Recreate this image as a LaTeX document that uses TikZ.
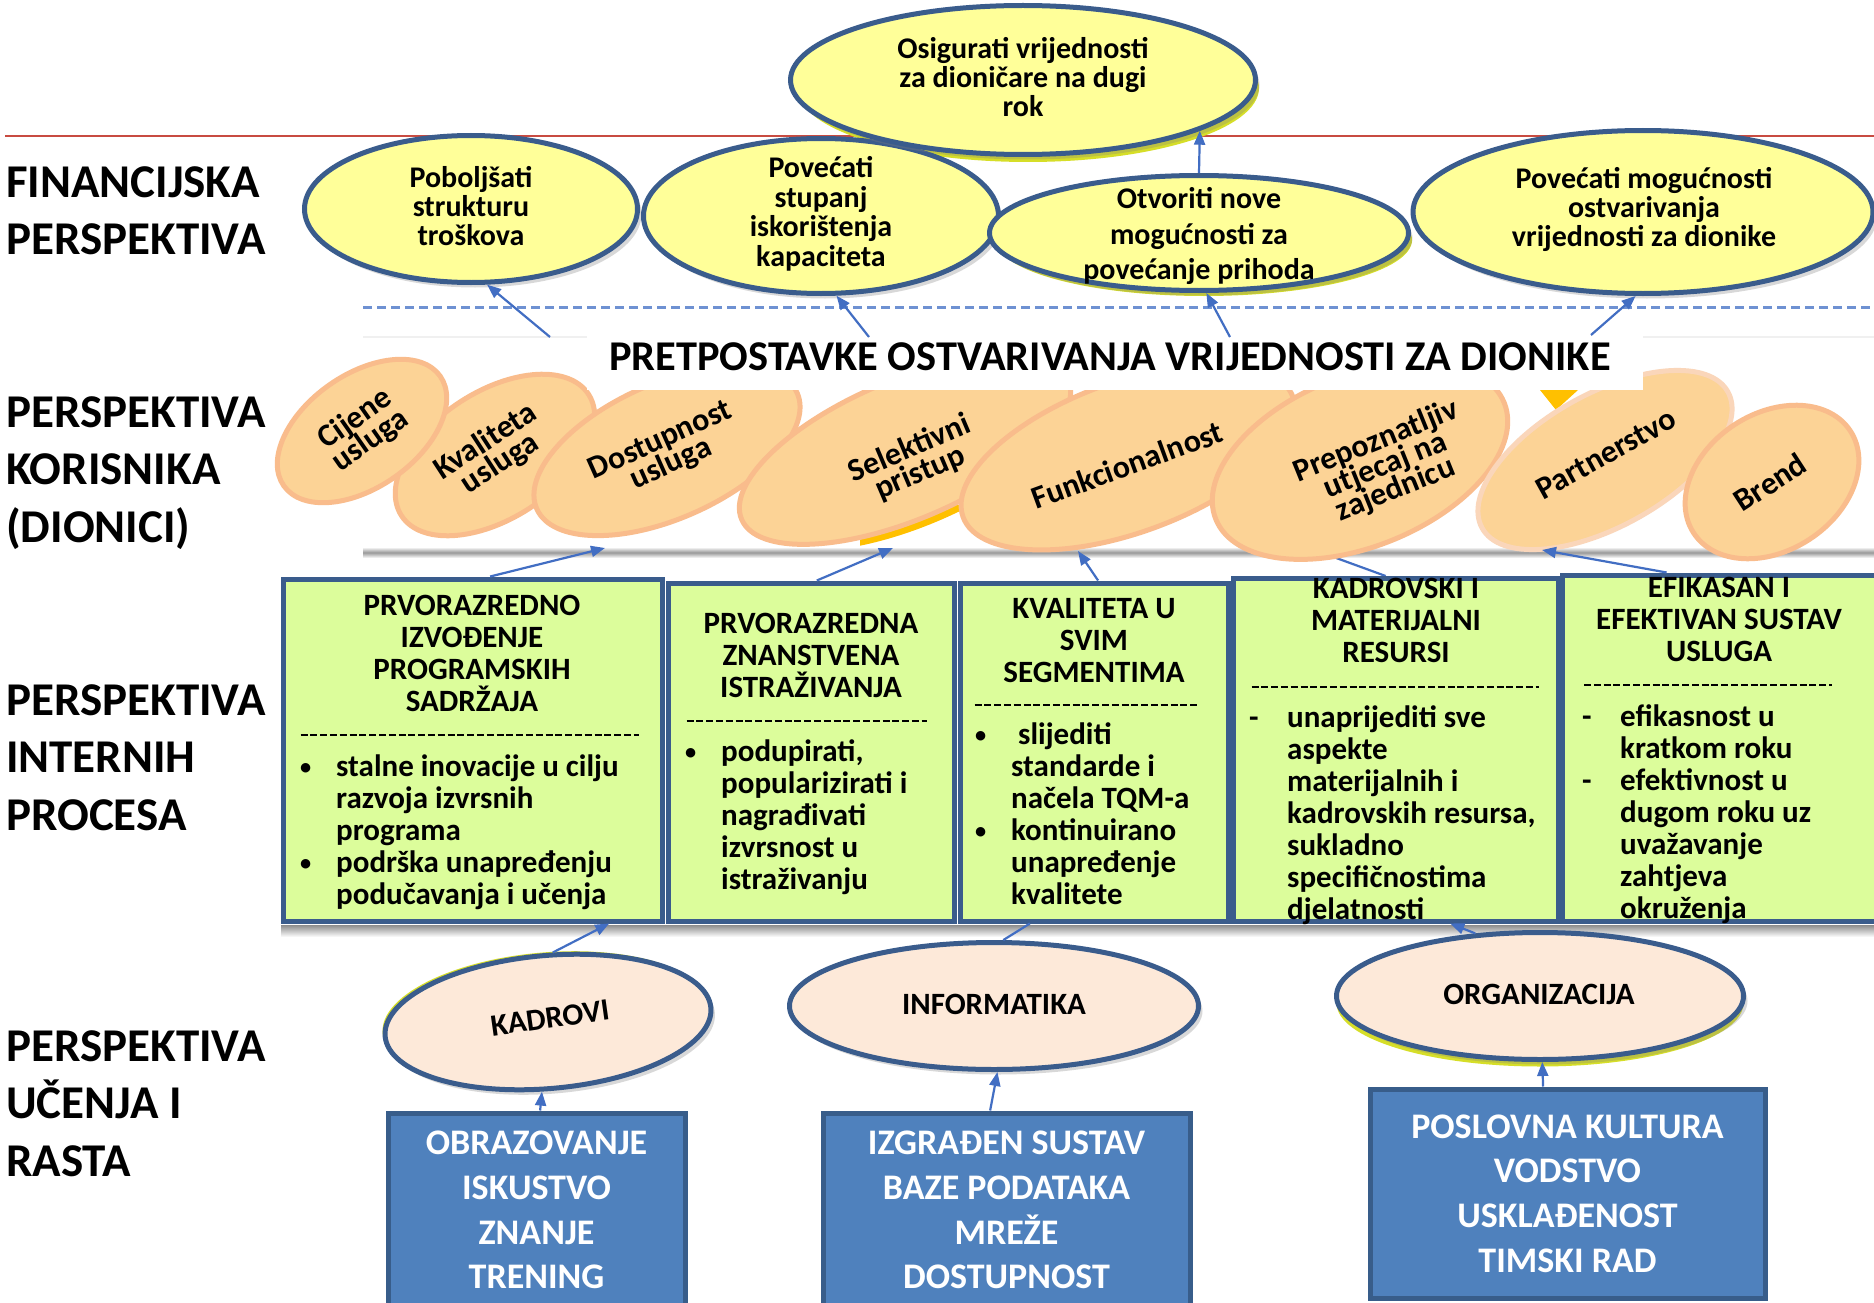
\documentclass[tikz,border=0pt]{standalone}
\usepackage{fontspec}
\usepackage{graphicx}
\setmainfont{Carlito}
\usetikzlibrary{shapes.geometric,arrows.meta,calc,shadows}

\definecolor{dkblue}{RGB}{58,92,140}
\definecolor{finyel}{RGB}{255,255,153}
\definecolor{custfill}{RGB}{252,211,150}
\definecolor{custline}{RGB}{249,188,140}
\definecolor{custlinelt}{RGB}{250,214,186}
\definecolor{procfill}{RGB}{220,253,155}
\definecolor{learnfill}{RGB}{253,233,217}
\definecolor{boxblue}{RGB}{79,129,189}
\definecolor{boxline}{RGB}{56,93,138}
\definecolor{arrblue}{RGB}{66,110,195}
\definecolor{redline}{RGB}{200,75,65}
\definecolor{dashblue}{RGB}{110,145,210}
\definecolor{sliver}{RGB}{214,222,40}
\definecolor{goldc}{RGB}{255,192,0}

\newcommand\ffin{\fontsize{30}{29}\selectfont\bfseries\lineskiplimit=-100pt\relax}
\newcommand\fpov{\fontsize{30}{29.5}\selectfont\bfseries\lineskiplimit=-100pt\relax}
\newcommand\fotv{\fontsize{30}{35.5}\selectfont\bfseries\lineskiplimit=-100pt\relax}
\newcommand\fcust{\fontsize{32}{26}\selectfont\bfseries\lineskiplimit=-100pt\relax}
\newcommand\fproc{\fontsize{31}{32}\selectfont\bfseries\lineskiplimit=-100pt\relax}
\newcommand\flearn{\fontsize{31}{36}\selectfont\bfseries}
\newcommand\fblue{\fontsize{36}{44.7}\selectfont\bfseries\lineskiplimit=-100pt\relax}
\newcommand\flab{\fontsize{47}{57.5}\selectfont\bfseries\lineskiplimit=-100pt\relax}
\newcommand\fban{\fontsize{42.4}{50}\selectfont\bfseries}
\newcommand\st{\rule{0pt}{25pt}}
\newcommand\stl{\rule{0pt}{40pt}}
\newcommand\bu{\makebox[38pt][l]{\hspace{2pt}\raisebox{1.5pt}{\scalebox{0.72}{•}}}}
\newcommand\da{\makebox[38pt][l]{-}}
\newcommand\ind{\makebox[38pt]{}}

\begin{document}
\begin{tikzpicture}[x=1pt,y=-1pt,
  finshape/.style={ellipse, draw=dkblue, line width=5pt, fill=finyel, inner sep=0pt,
     drop shadow={shadow xshift=4pt, shadow yshift=-5pt, opacity=0.3}},
  sliv/.style={ellipse, fill=sliver, inner sep=0pt},
  fintext/.style={align=center, inner sep=0pt, font=\ffin},
  custshape/.style={ellipse, draw=custline, line width=5pt, fill=custfill, inner sep=0pt},
  custtext/.style={align=center, inner sep=0pt, font=\fcust},
  procbox/.style={rectangle, draw=dkblue, line width=5pt, fill=procfill, inner sep=0pt},
  proctitle/.style={align=center, inner sep=0pt, font=\fproc, anchor=north},
  procbody/.style={align=left, inner sep=0pt, font=\fproc, anchor=north west},
  sepline/.style={line width=2.5pt, dash pattern=on 7pt off 2.8pt},
  learnshape/.style={ellipse, draw=dkblue, line width=5pt, fill=learnfill, inner sep=0pt,
     drop shadow={shadow xshift=4pt, shadow yshift=-5pt, opacity=0.3}},
  learntext/.style={inner sep=0pt, font=\flearn},
  bluebox/.style={rectangle, draw=boxline, line width=5pt, fill=boxblue, text=white,
     align=center, inner sep=0pt, font=\fblue},
  lab/.style={align=left, inner sep=0pt, font=\flab, anchor=north west},
  arr/.style={draw=arrblue, line width=2.2pt, -{Triangle[length=14pt,width=11pt]}},
  conn/.style={draw=arrblue, line width=2.2pt},
]
\useasboundingbox (0,0) rectangle (1874,1303);
\fill[white] (0,0) rectangle (1874,1303);

% ---- guide lines
\draw[redline, line width=2.5pt] (5,136) -- (1874,136);
\draw[dashblue, line width=3pt, dash pattern=on 9pt off 5pt] (363,307) -- (1874,307);
\draw[black!6, line width=2pt] (363,337) -- (1874,337);
\shade[top color=white, bottom color=white, middle color=black!40] (363,547) rectangle (1874,558);

% ---- left labels
\node[lab] (lab1) at (6,157) {\stl FINANCIJSKA\\PERSPEKTIVA};
\node[lab] (lab2) at (6,387) {\stl PERSPEKTIVA\\KORISNIKA\\(DIONICI)};
\node[lab] (lab3) at (6,675) {\stl PERSPEKTIVA\\INTERNIH\\PROCESA};
\node[lab] (lab4) at (6,1021) {\stl PERSPEKTIVA\\UČENJA I\\RASTA};

% ---- financial perspective
\node[sliv, minimum width=462pt, minimum height=148pt] (osigy) at (1028,88) {};
\node[sliv, minimum width=416pt, minimum height=112pt] (otvy) at (1204,240) {};
\node[finshape, minimum width=333pt, minimum height=147pt] (pob) at (471,209) {};
\node[finshape, minimum width=355pt, minimum height=155pt] (pov) at (821,216) {};
\node[finshape, minimum width=419pt, minimum height=115pt] (otv) at (1199,233) {};
\node[finshape, minimum width=460pt, minimum height=163pt] (povm) at (1643,212) {};
\node[finshape, minimum width=465pt, minimum height=149pt] (osig) at (1023,80) {};

\node[fintext] (osigt) at (1023,77) {Osigurati vrijednosti\\za dioničare na dugi\\rok};
\node[fintext] (pobt) at (471,206) {Poboljšati\\strukturu\\troškova};
\node[fintext, font=\fpov] (povt) at (821,214) {Povećati\\stupanj\\iskorištenja\\kapaciteta};
\node[fintext, font=\fotv] (otvt) at (1199,236) {Otvoriti nove\\mogućnosti za\\povećanje prihoda};
\node[fintext] (povmt) at (1644,209) {Povećati mogućnosti\\ostvarivanja\\vrijednosti za dionike};

% ---- customer perspective
\coordinate (e4) at (1328,555);
\draw[conn] ($(1231,576)!0.47!(1560,576)$) coordinate (s4) -- (e4);

\node[custshape, minimum width=223pt, minimum height=127pt, rotate=33] (kva) at (495,455) {};
\node[custshape, minimum width=191pt, minimum height=113pt, rotate=35] (cij) at (362,431) {};
\node[custshape, minimum width=285pt, minimum height=135pt, rotate=24] (dos) at (667,451) {};
\begin{scope}
  \clip (860,505) rectangle (965,565);
  \node[ellipse, fill=goldc, inner sep=0pt, minimum width=355pt, minimum height=139pt, rotate=23] (selg) at (911,457) {};
\end{scope}
\node[custshape, minimum width=355pt, minimum height=139pt, rotate=23] (sel) at (905,450) {};
\node[custshape, minimum width=351pt, minimum height=151pt, rotate=20] (fun) at (1128,457) {};
\node[custshape, minimum width=311pt, minimum height=171pt, rotate=22] (pre) at (1360,461) {};
\fill[goldc] (1540,390) -- (1578,390) -- (1556,410) -- cycle;
\node[custshape, draw=custlinelt, minimum width=281pt, minimum height=133pt, rotate=29] (par) at (1605,460) {};
\node[custshape, minimum width=187pt, minimum height=137pt, rotate=33] (bre) at (1772,482) {};

\node[custtext, rotate=35] (cijt) at (363,430) {Cijene\\usluga};
\node[custtext, rotate=33] (kvat) at (493,453) {Kvaliteta\\usluga};
\node[custtext, rotate=24] (dost) at (666,453) {Dostupnost\\usluga};
\node[custtext, rotate=23] (selt) at (915,461) {Selektivni\\pristup};
\node[custtext, rotate=20] (funt) at (1127,465) {Funkcionalnost};
\node[custtext, rotate=22] (pret) at (1386,466) {Prepoznatljiv\\utjecaj na\\zajednicu};
\node[custtext, rotate=29] (part) at (1606,454) {Partnerstvo};
\node[custtext, rotate=33] (bret) at (1770,482) {Brend};

% ---- banner
\node[fill=white, inner sep=0pt, minimum width=1056pt, minimum height=55pt] (ban) at (1115,362.5) {};
\node[inner sep=0pt, font=\fban] (bant) at (1110,357) {PRETPOSTAVKE OSTVARIVANJA VRIJEDNOSTI ZA DIONIKE};

% ---- arrows to financial goals
\coordinate (c1) at (550,337);
\coordinate (c2) at (869,337);
\coordinate (c3) at (1230,337);
\coordinate (c4) at (1591,335);
\draw[arr] (c1) -- (pob.-78);
\draw[arr] (c2) -- (pov.-79);
\draw[arr] (c3) -- (otv.-83);
\draw[arr] (c4) -- (povm.-95);
\draw[arr] (otv.north) -- (osig.-16);

% ---- internal processes
\shade[top color=black!45, bottom color=white] (281,925) rectangle (1874,937);
\node[procbox, minimum width=379pt, minimum height=342pt] (ib1) at (472.5,750) {};
\node[procbox, minimum width=286pt, minimum height=338pt] (ib2) at (811,752) {};
\node[procbox, minimum width=268pt, minimum height=338pt] (ib3) at (1094,752) {};
\node[procbox, minimum width=325pt, minimum height=343pt] (ib4) at (1395.5,749.5) {};
\node[procbox, minimum width=323pt, minimum height=346pt] (ib5) at (1724,748) {};

\node[proctitle] (ib1t) at (472,590) {\st PRVORAZREDNO\\IZVOĐENJE\\PROGRAMSKIH\\SADRŽAJA};
\node[proctitle] (ib2t) at (811,608) {\st PRVORAZREDNA\\ZNANSTVENA\\ISTRAŽIVANJA};
\node[proctitle] (ib3t) at (1094,593) {\st KVALITETA U\\SVIM\\SEGMENTIMA};
\node[proctitle] (ib4t) at (1396,573) {\st KADROVSKI I\\MATERIJALNI\\RESURSI};
\node[proctitle] (ib5t) at (1719,572) {\st EFIKASAN I\\EFEKTIVAN SUSTAV\\USLUGA};

\draw[sepline] ($(ib1.west)+(20,-15)$) coordinate (d1a) -- ($(ib1.east)+(-26,-15)$) coordinate (d1b);
\draw[sepline] ($(ib2.west)+(21,-31)$) coordinate (d2a) -- ($(ib2.east)+(-30,-31)$) coordinate (d2b);
\draw[sepline] ($(ib3.west)+(17,-47)$) coordinate (d3a) -- ($(ib3.east)+(-33,-47)$) coordinate (d3b);
\draw[sepline] ($(ib4.west)+(21,-62.5)$) coordinate (d4a) -- ($(ib4.east)+(-22,-62.5)$) coordinate (d4b);
\draw[sepline] ($(ib5.west)+(24,-63)$) coordinate (d5a) -- ($(ib5.west)+(272,-63)$) coordinate (d5b);

\node[procbody] (ib1b) at (298,751) {\st\bu stalne inovacije u cilju\\\ind razvoja izvrsnih\\\ind programa\\\bu podrška unapređenju\\\ind podučavanja i učenja};
\node[procbody] (ib2b) at (683,736) {\st\bu podupirati,\\\ind popularizirati i\\\ind nagrađivati\\\ind izvrsnost u\\\ind istraživanju};
\node[procbody] (ib3b) at (973,719) {\st\bu\hspace{7pt}slijediti\\\ind standarde i\\\ind načela TQM-a\\\bu kontinuirano\\\ind unapređenje\\\ind kvalitete};
\node[procbody] (ib4b) at (1249,702) {\st\da unaprijediti sve\\\ind aspekte\\\ind materijalnih i\\\ind kadrovskih resursa,\\\ind sukladno\\\ind specifičnostima\\\ind djelatnosti};
\node[procbody] (ib5b) at (1582,701) {\st\da efikasnost u\\\ind kratkom roku\\\da efektivnost u\\\ind dugom roku uz\\\ind uvažavanje\\\ind zahtjeva\\\ind okruženja};

% ---- arrows internal -> customer
\coordinate (t1) at (605,548);
\coordinate (t2) at (893,548);
\coordinate (t3) at (1078,551);
\coordinate (t5) at (1542,550);
\draw[arr] ($(ib1.north west)!0.546!(ib1.north east)$) -- (t1);
\draw[arr] ($(ib2.north west)!0.52!(ib2.north east)$) -- (t2);
\draw[arr] ($(ib3.north west)!0.515!(ib3.north east)$) -- (t3);
\draw[arr] ($(ib5.north west)!0.325!(ib5.north east)$) -- (t5);

% ---- learning and growth
\node[sliv, minimum width=327pt, minimum height=133pt, rotate=5] (kady) at (545.5,1019) {};
\node[sliv, minimum width=407pt, minimum height=127pt] (orgy) at (1540,1003) {};
\node[learnshape, minimum width=327pt, minimum height=133pt, rotate=5] (kad) at (548,1022) {};
\node[learnshape, minimum width=409pt, minimum height=127pt] (inf) at (994,1006) {};
\node[learnshape, minimum width=407pt, minimum height=127pt] (org) at (1540,996) {};
\node[learntext, rotate=8] (kadt) at (550,1018) {KADROVI};
\node[learntext] (inft) at (994,1004) {INFORMATIKA};
\node[learntext] (orgt) at (1539,994) {ORGANIZACIJA};

\node[bluebox, minimum width=297pt, minimum height=194pt] (bb1) at (536.5,1210) {OBRAZOVANJE\\ISKUSTVO\\ZNANJE\\TRENING};
\node[bluebox, minimum width=367pt, minimum height=194pt] (bb2) at (1006.5,1210) {IZGRAĐEN SUSTAV\\BAZE PODATAKA\\MREŽE\\DOSTUPNOST};
\node[bluebox, minimum width=395pt, minimum height=209pt] (bb3) at (1567.5,1193.5) {POSLOVNA KULTURA\\VODSTVO\\USKLAĐENOST\\TIMSKI RAD};

\draw[arr] ($(bb1.north west)!0.512!(bb1.north east)$) -- (kad.-100);
\draw[arr] ($(bb2.north west)!0.456!(bb2.north east)$) -- (inf.-87);
\draw[arr] ($(bb3.north west)!0.439!(bb3.north east)$) -- (org.-88);

\draw[arr] (kad.81) -- ($(ib1.south west)!0.856!(ib1.south east)$);
\draw[conn] (inf.82) -- ($(ib3.south west)!0.265!(ib3.south east)$);
\draw[arr] (org.136) -- ($(ib4.south west)!0.666!(ib4.south east)$);
\end{tikzpicture}
\end{document}
